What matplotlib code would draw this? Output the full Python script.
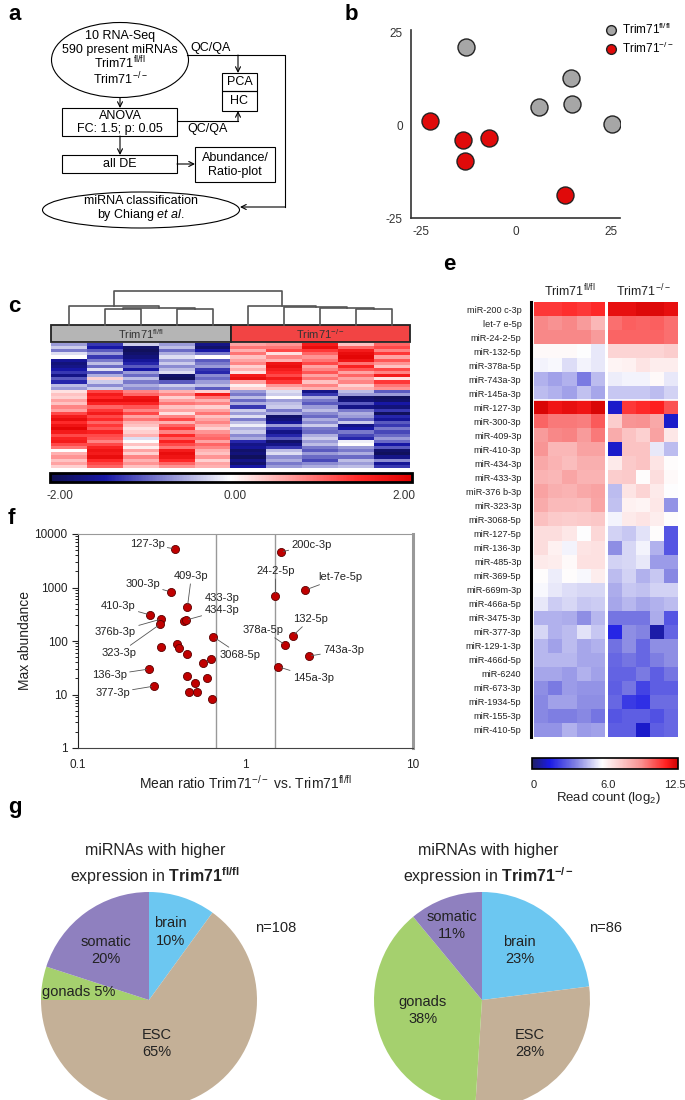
import numpy as np
import matplotlib
matplotlib.use('Agg')
import matplotlib.pyplot as plt
from matplotlib.patches import Ellipse, Rectangle
from matplotlib.colors import LinearSegmentedColormap
from matplotlib.lines import Line2D

plt.rcParams['font.family'] = ['Liberation Sans', 'DejaVu Sans']
plt.rcParams['mathtext.fontset'] = 'custom'
plt.rcParams['mathtext.rm'] = 'Liberation Sans'
plt.rcParams['mathtext.it'] = 'Liberation Sans:italic'
plt.rcParams['mathtext.bf'] = 'Liberation Sans:bold'
plt.rcParams['axes.unicode_minus'] = False

FL = r'Trim71$^{\mathrm{fl/fl}}$'
KO = r'Trim71$^{\mathrm{-/-}}$'

# ---------- b: PCA ----------
pca_fl_x = [-13.2, 14.5, 6.1, 14.7, 25.3]
pca_fl_y = [21.1, 12.7, 4.9, 5.7, 0.5]
pca_ko_x = [-22.6, -13.9, -7.1, -13.4, 12.9]
pca_ko_y = [1.1, -3.8, -3.5, -9.5, -18.9]

# ---------- c: z-score heatmap (5 fl/fl | 5 -/-) ----------
c_data = [
    [-0.6, -1.2, -0.3, -0.6, -1.6, 0.6, 0.7, 1.6, 0.4, 1.0],
    [-0.3, -1.4, -1.8, -0.4, -1.8, 0.9, 0.9, 1.8, 1.0, 1.2],
    [-0.8, -1.0, -1.9, -0.9, -1.4, 0.5, 1.2, 1.3, 1.6, 0.8],
    [-0.2, -0.6, -1.8, -0.5, -0.8, 0.9, 0.2, 1.0, 1.8, 1.3],
    [0.0, -1.2, -1.7, -0.2, 0.0, 0.4, 0.8, 0.7, 1.9, 0.6],
    [-1.5, -0.8, -1.5, -0.6, -1.0, 0.6, 0.5, 0.9, 1.7, 1.1],
    [-1.7, -0.4, -1.3, -0.3, -0.8, 0.8, 1.7, 1.2, 0.9, 0.7],
    [-1.6, -0.9, -1.0, -0.7, -0.6, 0.3, 1.8, 0.6, 1.5, 0.4],
    [-1.4, -0.2, -1.4, -0.4, -1.2, 0.5, 1.6, 0.8, 1.1, 1.2],
    [-1.2, -1.0, -0.6, -0.2, -1.3, 0.2, 1.4, 1.1, 0.6, 0.8],
    [-1.6, -0.5, -0.9, -1.8, -0.7, 1.6, 1.2, 0.6, 1.0, 1.6],
    [-1.0, 0.3, -0.4, -1.9, -0.9, 1.8, 1.6, 0.9, 0.6, 0.2],
    [-1.3, -0.3, -0.8, -1.0, -0.6, 0.6, 1.3, 0.4, 0.8, 1.3],
    [-0.4, -0.7, -0.5, -0.3, -0.4, 0.1, 0.7, 0.8, 0.3, 0.9],
    [-0.6, -0.3, -0.7, -0.6, -1.0, 0.3, 0.4, 0.5, 0.5, 0.7],
    [0.2, 1.2, 0.8, 0.5, 0.3, -0.6, -0.2, -1.6, -0.4, -1.0],
    [0.4, 1.6, 1.0, 0.8, 1.6, -0.8, -0.3, -1.2, -0.6, -0.6],
    [0.3, 1.4, 1.7, 0.3, 0.9, -0.4, 0.0, -0.5, -1.8, -1.9],
    [0.6, 1.8, 1.8, 0.6, 0.5, -0.9, -0.6, -0.8, -1.7, -1.8],
    [0.4, 1.5, 1.5, 0.9, 0.8, -0.5, -0.4, -1.0, -1.0, -1.4],
    [0.8, 1.0, 1.1, 0.4, 0.3, -1.2, -0.3, -0.6, -1.6, -1.7],
    [0.6, 1.3, 0.8, 0.6, 0.6, -0.3, -0.8, -0.4, -0.8, -1.2],
    [1.2, 1.6, 1.2, 0.2, 0.9, -0.6, -0.5, -0.7, -0.5, -1.9],
    [1.6, 1.2, 0.6, 0.8, 0.4, -0.2, -1.8, -0.9, -0.6, -1.3],
    [1.8, 1.4, 0.9, 1.2, 0.6, -0.8, -1.7, -0.5, -0.9, -1.5],
    [1.4, 1.0, 0.5, 0.5, 0.8, -0.4, -1.5, -0.7, -0.3, -1.0],
    [1.7, 1.3, 0.4, 1.0, 0.5, -0.1, -0.6, -0.3, -1.6, -1.2],
    [1.9, 1.1, 0.2, 1.3, 0.3, -0.5, -1.2, -0.8, -1.4, -0.8],
    [1.6, 1.5, 0.3, 0.8, 0.7, -0.3, -1.6, -0.9, -0.8, -1.1],
    [1.2, 1.2, 0.5, 1.4, 0.9, -0.7, -1.3, -0.5, -1.1, -0.9],
    [1.5, 1.1, -0.2, 1.0, 1.0, -0.5, -1.0, -0.3, -1.3, -0.6],
    [1.6, 0.8, 0.0, 1.5, 0.6, -1.3, -1.8, -0.6, -0.1, -0.9],
    [1.2, 1.2, 0.4, 1.2, 1.0, -1.6, -1.6, -0.4, 0.0, -1.4],
    [0.9, 1.5, 0.1, 0.9, 0.8, -1.5, -1.2, -0.8, -0.6, -1.0],
    [0.0, 1.7, 0.6, 1.6, 0.5, -1.8, -0.4, -1.0, -0.8, -1.8],
    [0.5, 1.6, 0.3, 1.8, 0.4, -1.7, -0.2, -0.6, -0.5, -1.9],
    [0.7, 1.8, 0.8, 1.7, 0.7, -1.9, -0.7, -0.9, -0.9, -1.6],
    [0.4, 1.4, 0.5, 1.4, 0.3, -1.6, -0.5, -1.1, -0.4, -0.7],
    [0.6, 1.2, 0.7, 1.0, 0.6, -1.8, -0.8, -0.7, -0.6, -1.5],
    [0.3, 1.0, 0.4, 0.7, 0.5, -1.4, -0.6, -0.5, -0.4, -1.2],
]

# ---------- e: read counts (log2) ----------
e_names = ['miR-200 c-3p', 'let-7 e-5p', 'miR-24-2-5p', 'miR-132-5p', 'miR-378a-5p',
           'miR-743a-3p', 'miR-145a-3p', 'miR-127-3p', 'miR-300-3p', 'miR-409-3p',
           'miR-410-3p', 'miR-434-3p', 'miR-433-3p', 'miR-376 b-3p', 'miR-323-3p',
           'miR-3068-5p', 'miR-127-5p', 'miR-136-3p', 'miR-485-3p', 'miR-369-5p',
           'miR-669m-3p', 'miR-466a-5p', 'miR-3475-3p', 'miR-377-3p', 'miR-129-1-3p',
           'miR-466d-5p', 'miR-6240', 'miR-673-3p', 'miR-1934-5p', 'miR-155-3p', 'miR-410-5p']
e_fl = [
    [11.0, 11.0, 11.2, 11.0, 11.3], [9.5, 9.3, 9.5, 9.0, 8.2], [9.5, 9.5, 9.5, 9.5, 9.0],
    [6.2, 6.2, 6.2, 6.0, 5.6], [5.8, 5.9, 5.4, 5.8, 5.6], [4.6, 4.3, 4.6, 3.6, 4.8],
    [4.8, 4.6, 4.3, 4.9, 4.4], [12.3, 11.8, 12.0, 11.8, 12.3], [10.2, 9.8, 9.8, 9.7, 10.4],
    [9.0, 9.5, 9.6, 9.0, 9.8], [9.2, 8.2, 8.2, 8.8, 8.8], [8.6, 8.3, 8.0, 8.4, 8.4],
    [8.3, 8.2, 8.7, 8.3, 8.3], [8.8, 8.4, 8.3, 8.6, 8.8], [8.5, 8.1, 8.1, 8.0, 8.7],
    [7.9, 7.6, 7.5, 7.6, 7.7], [7.0, 7.0, 6.7, 6.0, 7.2], [7.0, 6.4, 5.8, 6.8, 6.9],
    [6.6, 6.5, 6.2, 6.9, 6.9], [6.1, 5.7, 6.1, 5.9, 6.5], [5.9, 5.6, 5.4, 5.3, 5.3],
    [5.6, 5.1, 5.3, 5.0, 5.1], [4.6, 4.6, 4.5, 4.0, 4.7], [5.3, 4.6, 4.8, 5.5, 5.0],
    [4.7, 4.3, 4.8, 4.4, 4.6], [4.7, 4.7, 4.7, 4.4, 4.4], [4.4, 4.4, 4.2, 4.6, 4.3],
    [4.0, 3.6, 4.2, 4.1, 4.1], [3.9, 4.3, 4.3, 4.0, 4.0], [3.9, 3.7, 3.7, 3.9, 3.5],
    [4.1, 4.1, 4.6, 4.2, 4.3],
]
e_ko = [
    [12.0, 12.0, 12.2, 12.2, 12.0], [10.0, 10.3, 10.2, 10.3, 10.0], [10.2, 10.2, 10.2, 10.2, 10.0],
    [7.3, 7.3, 7.3, 7.3, 7.5], [6.3, 6.4, 6.8, 6.5, 6.5], [5.7, 5.8, 5.8, 6.2, 5.6],
    [5.0, 5.0, 5.0, 4.8, 5.2], [1.2, 11.0, 11.3, 11.5, 10.5], [7.5, 9.2, 9.3, 8.6, 1.2],
    [8.5, 7.8, 7.4, 8.8, 6.7], [1.2, 7.8, 7.8, 5.6, 4.8], [6.6, 7.6, 7.8, 6.8, 6.1],
    [7.5, 7.6, 6.1, 7.0, 6.2], [4.8, 6.8, 7.3, 6.6, 6.0], [4.9, 6.4, 6.3, 6.7, 4.1],
    [5.8, 6.6, 6.8, 6.5, 6.1], [5.2, 5.0, 5.5, 6.1, 2.8], [4.0, 5.3, 5.8, 4.6, 2.8],
    [5.2, 5.3, 5.6, 4.2, 4.2], [4.8, 5.2, 4.6, 5.0, 3.9], [4.5, 5.0, 4.9, 5.2, 5.2],
    [4.4, 4.7, 4.4, 4.6, 4.8], [3.5, 3.5, 3.5, 4.5, 2.8], [1.8, 4.0, 3.8, 0.8, 3.1],
    [3.4, 4.0, 3.2, 4.0, 4.0], [3.2, 3.5, 3.2, 3.7, 4.0], [3.1, 3.1, 3.6, 3.0, 3.5],
    [3.0, 3.5, 2.4, 3.0, 3.0], [3.2, 2.2, 2.0, 3.3, 3.3], [2.8, 3.0, 3.0, 2.7, 3.2],
    [3.0, 3.0, 1.2, 3.0, 3.2],
]

# ---------- f: abundance vs ratio ----------
f_names = ['127-3p', '200c-3p', '24-2-5p', 'let-7e-5p', '300-3p', '409-3p', '410-3p',
           '376b-3p', '323-3p', '433-3p', '434-3p', '3068-5p', '132-5p', '378a-5p',
           '743a-3p', '145a-3p', '136-3p', '377-3p',
           '', '', '', '', '', '', '', '', '', '', '', '']
f_ratio = [0.38, 1.62, 1.51, 2.28, 0.357, 0.45, 0.27, 0.315, 0.31, 0.43, 0.44, 0.644,
           1.91, 1.73, 2.38, 1.57, 0.267, 0.286,
           0.315, 0.39, 0.40, 0.45, 0.56, 0.62, 0.45, 0.50, 0.59, 0.457, 0.51, 0.63]
f_abund = [5250, 4600, 690, 900, 830, 430, 306, 258, 207, 236, 245, 119, 124, 84,
           52, 33, 30, 14.4,
           77, 88, 74, 57, 39, 46, 22, 16.4, 20.4, 11.1, 11.1, 8.2]
# label offsets in pixels (dx, dy down) and whether a leader line is drawn
f_off = [(-28, -5), (31, -7), (0, -25), (35, -13), (-28, -8), (4, -31), (-32, -9),
         (-46, 13), (-41, 29), (38, -23), (36, -10), (27, 18), (18, -17), (-22, -15),
         (35, -6), (35, 11), (-40, 6), (-42, 7)]
f_line = [1, 1, 1, 1, 1, 1, 1, 1, 1, 0, 1, 1, 1, 1, 1, 1, 1, 1]

# ---------- g: pies ----------
g_cats = ['brain', 'ESC', 'gonads', 'somatic']
g_colors = ['#6cc7f1', '#c4b097', '#a5d06e', '#8f80bf']
g_fl = [10, 65, 5, 20]
g_ko = [23, 28, 38, 11]

W, H = 685, 1100
fig = plt.figure(figsize=(W / 100, H / 100), dpi=100)


def px_axes(l, t, w, h):
    return fig.add_axes([l / W, 1 - (t + h) / H, w / W, h / H])


ov = px_axes(0, 0, W, H)
ov.set_xlim(0, W)
ov.set_ylim(H, 0)
ov.axis('off')

for x, y, s in [(8, 14, 'a'), (345, 14, 'b'), (8, 306, 'c'), (443, 265, 'e'), (8, 518, 'f'), (8, 807, 'g')]:
    ov.text(x, y, s, fontsize=16, fontweight='bold', va='center', ha='left')

# ---------- a: flowchart ----------
lw = 0.8


def arrow(x0, y0, x1, y1):
    ov.annotate('', xy=(x1, y1), xytext=(x0, y0),
                arrowprops=dict(arrowstyle='->', lw=lw, color='k', shrinkA=0, shrinkB=0, mutation_scale=9))


def box(x, y, w, h):
    ov.add_patch(Rectangle((x, y), w, h, fill=False, lw=lw, ec='k'))


fs = 9
ov.add_patch(Ellipse((120, 60), 137, 75, fill=False, lw=lw))
for y, s in zip([36, 50, 63.5, 79], ['10 RNA-Seq', '590 present miRNAs', FL, KO]):
    ov.text(120, y, s, ha='center', va='center', fontsize=fs)
ov.plot([187, 285, 285], [55, 55, 207], color='k', lw=lw)
arrow(285, 207, 240, 207)
ov.text(211, 48, 'QC/QA', ha='center', va='center', fontsize=fs)
arrow(238, 55, 238, 73)
box(222, 73, 35, 18)
box(222, 91, 35, 20)
ov.text(239.5, 82, 'PCA', ha='center', va='center', fontsize=fs)
ov.text(239.5, 101, 'HC', ha='center', va='center', fontsize=fs)
arrow(120, 97.5, 120, 108)
box(62, 108, 115, 28)
ov.text(120, 116, 'ANOVA', ha='center', va='center', fontsize=fs)
ov.text(120, 129, 'FC: 1.5; p: 0.05', ha='center', va='center', fontsize=fs)
ov.plot([177, 238], [121, 121], color='k', lw=lw)
arrow(238, 121, 238, 111)
ov.text(208, 129, 'QC/QA', ha='center', va='center', fontsize=fs)
arrow(120, 136, 120, 155)
box(62, 155, 115, 18)
ov.text(120, 164, 'all DE', ha='center', va='center', fontsize=fs)
arrow(177, 164, 195, 164)
box(195, 147, 80, 35)
ov.text(235, 158, 'Abundance/', ha='center', va='center', fontsize=fs)
ov.text(235, 172, 'Ratio-plot', ha='center', va='center', fontsize=fs)
ov.add_patch(Ellipse((141, 210), 197, 36, fill=False, lw=lw))
ov.text(141, 201, 'miRNA classification', ha='center', va='center', fontsize=fs)
ov.text(141, 215, r'by Chiang $\mathit{et\ al.}$', ha='center', va='center', fontsize=fs)

# ---------- b ----------
axb = px_axes(411, 30, 209, 188)
axb.scatter(pca_fl_x, pca_fl_y, s=150, c='#a6a6a6', edgecolors='#222222', linewidths=1, zorder=3)
axb.scatter(pca_ko_x, pca_ko_y, s=150, c='#e00a0a', edgecolors='#222222', linewidths=1, zorder=3)
axb.set_xlim(-27.6, 27.4)
axb.set_ylim(-25, 25.8)
axb.set_xticks([-25, 0, 25])
axb.set_yticks([-25, 0, 25])
axb.tick_params(length=0, labelsize=8.5, colors='#333333', pad=6)
for s in ['top', 'right']:
    axb.spines[s].set_visible(False)
for s in ['left', 'bottom']:
    axb.spines[s].set_color('#333333')
    axb.spines[s].set_linewidth(1.2)
handles = [Line2D([], [], marker='o', ls='', mfc='#a6a6a6', mec='#222222', ms=7),
           Line2D([], [], marker='o', ls='', mfc='#e00a0a', mec='#222222', ms=7)]
axb.legend(handles, [FL, KO], loc='upper left', bbox_to_anchor=(598, 16), bbox_transform=ov.transData,
           frameon=False, fontsize=8.5, handletextpad=0.3, labelspacing=0.35, borderpad=0, handlelength=1.2)

# ---------- c ----------
cmap_c = LinearSegmentedColormap.from_list('c', [(0, '#10104f'), (0.15, '#1818a6'), (0.5, '#ffffff'),
                                                 (0.85, '#ff2a2a'), (1, '#e00000')])
axc = px_axes(51, 343, 359, 125)
imc = axc.imshow(np.array(c_data), cmap=cmap_c, vmin=-2, vmax=2, aspect='auto', interpolation='nearest')
axc.axis('off')
ov.add_patch(Rectangle((51, 325), 180, 17, fc='#b5b5b5', ec='#222222', lw=1.3))
ov.add_patch(Rectangle((231, 325), 179, 17, fc='#f24444', ec='#222222', lw=1.3))
ov.text(141, 334, FL, ha='center', va='center', fontsize=8, color='#333333')
ov.text(320, 334, KO, ha='center', va='center', fontsize=8, color='#333333')
leaf = [51 + 35.9 * (i + 0.5) for i in range(10)]


def link(xa, ya, xb, yb, h):
    ov.plot([xa, xa, xb, xb], [ya, h, h, yb], color='#555555', lw=1.2)
    return (xa + xb) / 2, h


base = 325
n23 = link(leaf[1], base, leaf[2], base, 309)
n45 = link(leaf[3], base, leaf[4], base, 309)
n2345 = link(n23[0], n23[1], n45[0], n45[1], 307.5)
nl = link(leaf[0], base, n2345[0], n2345[1], 306)
r45 = link(leaf[8], base, leaf[9], base, 309)
r345 = link(leaf[7], base, r45[0], r45[1], 308)
r2345 = link(leaf[6], base, r345[0], r345[1], 307)
nr = link(leaf[5], base, r2345[0], r2345[1], 306)
link(nl[0], nl[1], nr[0], nr[1], 291)

caxc = px_axes(50, 473, 362, 9)
cbc = fig.colorbar(imc, cax=caxc, orientation='horizontal')
cbc.set_ticks([])
cbc.outline.set_linewidth(2)
for x, s in [(60, '-2.00'), (235, '0.00'), (404, '2.00')]:
    ov.text(x, 496, s, ha='center', va='center', fontsize=8.5, color='#333333')

# ---------- e ----------
cmap_e = LinearSegmentedColormap.from_list('e', [(0, '#202066'), (0.12, '#1a1ae6'), (0.3, '#8282e2'),
                                                 (0.48, '#ffffff'), (0.75, '#f89090'), (0.92, '#ff2020'),
                                                 (1, '#d00000')])
axe1 = px_axes(534, 302, 71, 435)
axe2 = px_axes(608, 302, 70, 435)
ime = axe1.imshow(np.array(e_fl), cmap=cmap_e, vmin=0, vmax=12.5, aspect='auto', interpolation='nearest')
axe2.imshow(np.array(e_ko), cmap=cmap_e, vmin=0, vmax=12.5, aspect='auto', interpolation='nearest')
for a in (axe1, axe2):
    a.set_xticks([])
    a.axhline(6.5, color='white', lw=1.2)
    for s in a.spines.values():
        s.set_visible(False)
axe1.set_yticks(range(len(e_names)))
axe1.set_yticklabels(e_names, fontsize=6.6, color='#222222')
axe1.tick_params(axis='y', length=0, pad=9)
axe2.set_yticks([])
ov.plot([531, 531], [302, 737], color='k', lw=2.2)
ov.text(570, 291, FL, ha='center', va='center', fontsize=9, color='#222222')
ov.text(643, 291, KO, ha='center', va='center', fontsize=9, color='#222222')
caxe = px_axes(532, 758, 146, 11)
cbe = fig.colorbar(ime, cax=caxe, orientation='horizontal')
cbe.set_ticks([])
cbe.outline.set_linewidth(1.2)
for x, s in [(534, '0'), (608, '6.0'), (675, '12.5')]:
    ov.text(x, 785, s, ha='center', va='center', fontsize=8, color='#222222')
ov.text(608, 798, r'Read count (log$_{\mathrm{2}}$)', ha='center', va='center', fontsize=9.5, color='#222222')

# ---------- f ----------
axf = px_axes(78, 534, 335, 214)
axf.set_xscale('log')
axf.set_yscale('log')
axf.set_xlim(0.1, 10)
axf.set_ylim(1, 10000)
axf.axvline(1 / 1.5, color='#999999', lw=1)
axf.axvline(1.5, color='#999999', lw=1)
axf.scatter(f_ratio, f_abund, s=34, c='#c00000', edgecolors='#5a0000', linewidths=0.6, zorder=3)
for i, name in enumerate(f_names):
    if not name:
        continue
    dx, dy = f_off[i]
    ap = dict(arrowstyle='-', color='#555555', lw=0.6, shrinkA=0, shrinkB=2) if f_line[i] else None
    axf.annotate(name, xy=(f_ratio[i], f_abund[i]), xytext=(dx, -dy), textcoords='offset pixels',
                 ha='center', va='center', fontsize=8, color='#222222', arrowprops=ap)
axf.set_xticks([0.1, 1, 10])
axf.set_xticklabels(['0.1', '1', '10'])
axf.set_yticks([1, 10, 100, 1000, 10000])
axf.set_yticklabels(['1', '10', '100', '1000', '10000'])
axf.tick_params(axis='both', labelsize=8.5, colors='#222222')
axf.tick_params(axis='x', which='both', length=0, pad=8)
axf.tick_params(axis='y', which='major', length=4, width=0.8, direction='out')
axf.tick_params(axis='y', which='minor', length=2, width=0.6, direction='out')
axf.spines['left'].set_color('#222222')
axf.spines['bottom'].set_color('#444444')
axf.spines['top'].set_color('#999999')
axf.spines['right'].set_color('#999999')
axf.spines['right'].set_linewidth(2.2)
axf.set_ylabel('Max abundance', fontsize=10, color='#222222', labelpad=2)
axf.set_xlabel(r'Mean ratio Trim71$^{\mathrm{-/-}}$ vs. Trim71$^{\mathrm{fl/fl}}$', fontsize=10,
               color='#222222', labelpad=2)

# ---------- g ----------
pie_specs = [
    (41, g_fl, 'fl/fl', 'n=108', 276,
     [(0.20, 0.63, 'brain\n10%'), (0.07, -0.40, 'ESC\n65%'), (-0.65, 0.07, 'gonads 5%'), (-0.40, 0.46, 'somatic\n20%')]),
    (374, g_ko, '-/-', 'n=86', 606,
     [(0.35, 0.46, 'brain\n23%'), (0.44, -0.40, 'ESC\n28%'), (-0.55, -0.10, 'gonads\n38%'), (-0.28, 0.69, 'somatic\n11%')]),
]
for left, vals, sup, ntxt, nx, labs in pie_specs:
    axg = px_axes(left, 892, 216, 216)
    axg.pie(vals, colors=g_colors, startangle=90, counterclock=False, radius=1,
            wedgeprops=dict(linewidth=0))
    axg.set_aspect('auto')
    axg.set_xlim(-1, 1)
    axg.set_ylim(-1, 1)
    for x, y, s in labs:
        axg.text(x, y, s, ha='center', va='center', fontsize=10.5, color='#222222', linespacing=1.3)
    cx = left + 108
    ov.text(cx + 6, 851, 'miRNAs with higher', ha='center', va='center', fontsize=11.5, color='#222222')
    ov.text(cx + 6, 876, r'expression in $\mathbf{Trim71}^{\mathbf{' + sup + '}}$', ha='center', va='center',
            fontsize=11.5, color='#222222')
    ov.text(nx, 928, ntxt, ha='center', va='center', fontsize=10.5, color='#222222')

fig.savefig('out.png', dpi=100)
